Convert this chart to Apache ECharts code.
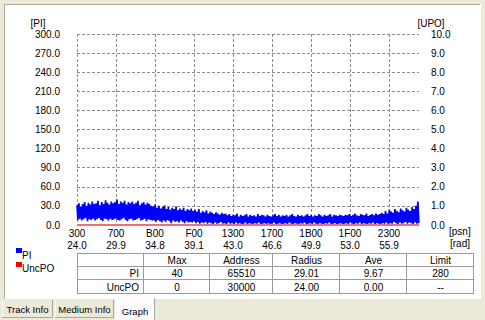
<!DOCTYPE html>
<html><head><meta charset="utf-8">
<script src="https://cdn.jsdelivr.net/npm/echarts@6/dist/echarts.min.js"></script>
<style>html,body{margin:0;padding:0;background:#ECE9D8;overflow:hidden}#c{width:485px;height:320px}</style>
</head><body><div id="c"></div>
<script>
// ---- data ----
const psnStart = 0x300;          // first psn on the axis
const psnEnd = 0x2614;           // last psn on the axis
const psnStep = 50;              // psn between successive PI samples
const piHigh = [
 31,34,29,33,36,30,35,32,37,33,34,38,31,36,33,39,35,32,37,34,
 36,40,33,37,35,38,32,36,34,37,33,35,38,31,34,36,32,35,33,30,
 29,32,27,30,26,28,31,25,28,24,27,25,29,23,26,24,27,22,25,23,
 26,22,24,21,25,19,22,20,23,18,21,19,17,20,18,16,19,17,18,15,
 17,14,16,15,18,13,16,14,15,17,13,16,14,15,13,17,14,16,15,13,
 16,14,13,15,17,14,16,13,15,14,16,13,15,17,14,13,16,14,15,13,
 15,17,14,16,13,15,14,17,15,13,16,14,15,17,13,16,15,14,16,15,
 14,16,15,17,14,16,18,15,14,17,16,15,18,14,16,17,15,18,16,17,
 19,17,22,18,24,21,19,25,22,20,26,23,21,27,24,22,28,25,30,37];
const piLow = [
 8,10,7,9,11,6,9,8,10,7,9,11,8,6,10,9,7,10,8,9,
 10,8,7,9,11,8,6,9,10,7,8,9,11,7,8,10,6,9,8,7,
 7,5,8,6,4,7,5,8,6,3,7,5,6,4,7,5,3,6,4,5,
 4,6,3,5,2,4,3,5,2,4,3,1,4,2,3,5,2,3,1,4,
 2,3,1,4,2,3,1,2,4,1,3,2,1,3,2,4,1,2,3,1,
 3,1,2,4,1,2,3,1,2,3,1,4,2,1,3,2,1,3,2,4,
 1,2,3,1,4,2,1,3,2,1,3,2,4,1,2,3,1,2,3,1,
 2,3,1,4,2,1,3,2,4,1,3,2,1,3,2,4,1,3,2,1,
 3,2,4,1,3,2,5,3,1,4,2,3,5,2,4,3,1,4,2,3];
const uncpoPsn = [0x300,0x700,0xB00,0xF00,0x1300,0x1700,0x1B00,0x1F00,0x2300,0x2614];
const uncpoVal = [0,0,0,0,0,0,0,0,0,0];
const psnTickStep = 0x400;
const radLabels = ['24.0','29.9','34.8','39.1','43.0','46.6','49.9','53.0','55.9'];
const piMax = 300, piTick = 30;
const upoMax = 10, upoTick = 1;
const tableHeader = ['', 'Max', 'Address', 'Radius', 'Ave', 'Limit'];
const tableRows = [
  ['PI', '40', '65510', '29.01', '9.67', '280'],
  ['UncPO', '0', '30000', '24.00', '0.00', '--']
];
const legendItems = [['PI', '#0000FF'], ['UncPO', '#FF0000']];
const tabNames = ['Track Info', 'Medium Info', 'Graph'];

// ---- build ----
const FONT = 'Liberation Sans, Arial, sans-serif';
const piData = [];
for (let i = 0; i < piHigh.length; i++) {
  piData.push([i * psnStep, piHigh[i]]);
  piData.push([i * psnStep + psnStep / 2, piLow[i]]);
}
const uncData = uncpoPsn.map((p, i) => [p - psnStart, uncpoVal[i]]);

const G = [];
function txt(x, y, s, align, extra, size) {
  G.push(Object.assign({type: 'text', x: x, y: y, z: 50,
    style: {text: s, fill: '#000', font: (size || 10) + 'px ' + FONT, textAlign: align || 'left', textVerticalAlign: 'middle'}}, extra || {}));
}
function line(x1, y1, x2, y2, color, z) {
  G.push({type: 'line', z: z || 40, shape: {x1: x1, y1: y1, x2: x2, y2: y2}, style: {stroke: color, lineWidth: 1}});
}
function rect(x, y, w, h, fill, z) {
  G.push({type: 'rect', z: z || -5, shape: {x: x, y: y, width: w, height: h}, style: {fill: fill}});
}
// panel
rect(4, 4, 477, 295, '#ACA899', -10);
rect(5, 5, 475, 293, '#FFFFFF', -9);
line(4.5, 298.5, 480.5, 298.5, '#FFFFFF', -8);
line(480.5, 4, 480.5, 299, '#FFFFFF', -8);
// axis names
txt(38, 23, '[PI]', 'center');
txt(431, 23, '[UPO]', 'center');
txt(449, 231, '[psn]', 'left');
txt(450, 243, '[rad]', 'left');
// legend
legendItems.forEach((it, k) => {
  G.push({type: 'rect', z: 50, shape: {x: 16, y: 248 + k * 14, width: 6, height: 5}, style: {fill: it[1]}});
  txt(22, 255.5 + k * 13, it[0], 'left');
});
// table
const colX = [77, 143, 209, 272, 339, 406, 473];
const rowY = [253, 266, 279, 293];
rowY.forEach(y => line(colX[0], y + 0.5, colX[colX.length - 1] + 1, y + 0.5, '#9A9A9A'));
colX.forEach(x => line(x + 0.5, rowY[0], x + 0.5, rowY[rowY.length - 1] + 1, '#9A9A9A'));
[tableHeader].concat(tableRows).forEach((row, r) => {
  const cy = (rowY[r] + rowY[r + 1]) / 2 + 1;
  row.forEach((s, c) => {
    if (!s) return;
    if (c === 0) txt(colX[1] - 4, cy, s, 'right');
    else txt((colX[c] + colX[c + 1]) / 2 + 1, cy, s, 'center');
  });
});
// tabs
const tabX = [[2, 53], [55, 114], [115, 155]];
tabNames.forEach((n, k) => {
  const sel = k === 2;
  const x0 = tabX[k][0], x1 = tabX[k][1];
  const y0 = sel ? 298 : 300, y1 = sel ? 320 : 318;
  rect(x0, y0, x1 - x0, y1 - y0, sel ? '#FCFCFE' : '#ECE9D8', 20);
  line(x0 + 0.5, y0, x0 + 0.5, y1, '#FFFFFF', 21);
  line(x1 - 0.5, y0, x1 - 0.5, y1, '#ACA899', 21);
  if (!sel) line(x0, y1 - 0.5, x1, y1 - 0.5, '#ACA899', 21);
  txt((x0 + x1) / 2, sel ? 311 : 309.5, n, 'center', {z: 22}, 9.5);
});

const chart = echarts.init(document.getElementById('c'), null, {renderer: 'svg'});
const lbl = {color: '#000', fontSize: 10, fontFamily: FONT};
chart.setOption({
  animation: false,
  grid: {left: 77, top: 34, width: 342, height: 191, containLabel: false},
  xAxis: [{
    type: 'value', min: 0, max: psnEnd - psnStart, interval: psnTickStep,
    axisLine: {show: false}, axisTick: {show: false},
    axisLabel: Object.assign({margin: 3, showMaxLabel: false,
      formatter: v => (v + psnStart).toString(16).toUpperCase()}, lbl),
    splitLine: {show: true, showMaxLine: false, lineStyle: {color: '#8C8C8C', type: [3, 2], width: 1}}
  }, {
    type: 'value', position: 'bottom', offset: 12, min: 0, max: psnEnd - psnStart, interval: psnTickStep,
    axisLine: {show: false}, axisTick: {show: false}, splitLine: {show: false},
    axisLabel: Object.assign({margin: 3, showMaxLabel: false,
      formatter: v => { const k = Math.round(v / psnTickStep); return radLabels[k] || ''; }}, lbl)
  }],
  yAxis: [{
    type: 'value', min: 0, max: piMax, interval: piTick,
    axisLine: {show: false}, axisTick: {show: false},
    axisLabel: Object.assign({margin: 17, formatter: v => v.toFixed(1)}, lbl),
    splitLine: {show: true, lineStyle: {color: '#8C8C8C', type: [3, 2], width: 1}}
  }, {
    type: 'value', position: 'right', min: 0, max: upoMax, interval: upoTick,
    axisLine: {show: false}, axisTick: {show: false}, splitLine: {show: false},
    axisLabel: Object.assign({margin: 12, formatter: v => v.toFixed(1)}, lbl)
  }],
  series: [{
    name: 'PI', type: 'line', xAxisIndex: 0, yAxisIndex: 0, data: piData,
    showSymbol: false, symbol: 'none', lineStyle: {color: '#0000FF', width: 1.7}, z: 3
  }, {
    name: 'UncPO', type: 'line', xAxisIndex: 0, yAxisIndex: 1, data: uncData,
    showSymbol: false, symbol: 'none', lineStyle: {color: '#F07070', width: 2}, z: 4
  }],
  graphic: G
});
</script></body></html>
